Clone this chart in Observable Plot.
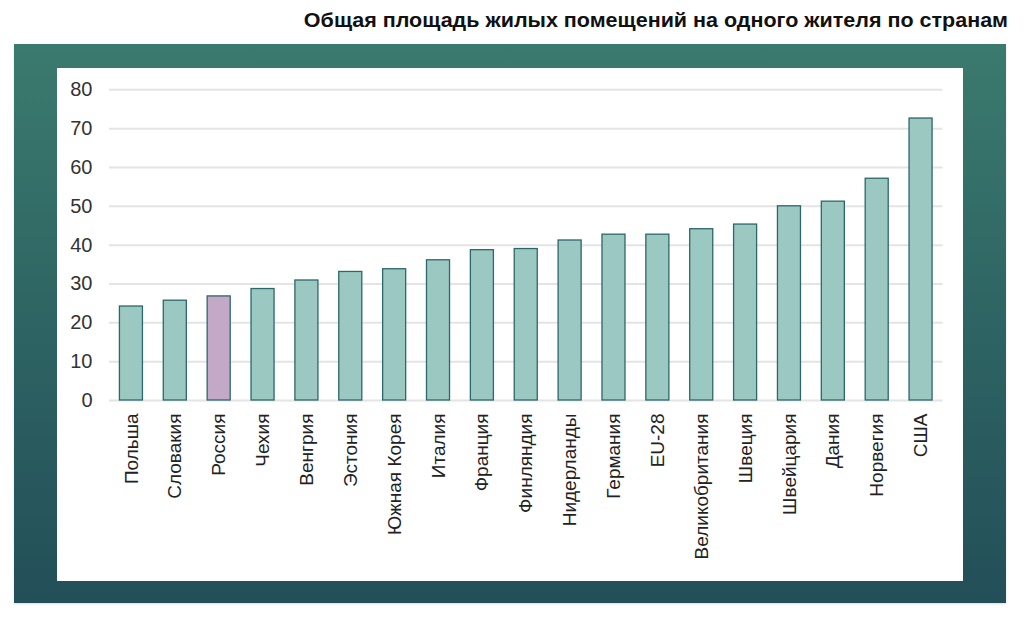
<!DOCTYPE html>
<html>
<head>
<meta charset="utf-8">
<script src="https://cdn.jsdelivr.net/npm/d3@7"></script>
<script src="https://cdn.jsdelivr.net/npm/@observablehq/plot@0.6"></script>
<style>
  html, body { margin: 0; padding: 0; background: #fff; }
  body { width: 1024px; height: 623px; position: relative; overflow: hidden; font-family: "Liberation Sans", Arial, sans-serif; }
  #title { position: absolute; right: 16px; top: 10px; font-weight: bold; font-size: 20px; line-height: 20px; color: #111; white-space: nowrap;
           transform: scaleX(1.075); transform-origin: right center; }
  #frame { position: absolute; left: 14px; top: 44px; width: 992px; height: 559px;
           background: linear-gradient(180deg, #3b7a6e 0%, #2e6463 50%, #234f58 100%);
           box-shadow: 0 1px 2px rgba(0,0,0,0.15); }
  #panel { position: absolute; left: 57px; top: 68px; width: 906px; height: 513px; background: #fff; }
  #panel svg { display: block; }
</style>
</head>
<body>
<div id="title">Общая площадь жилых помещений на одного жителя по странам</div>
<div id="frame"></div>
<div id="panel"></div>
<script>
const countries = ["Польша","Словакия","Россия","Чехия","Венгрия","Эстония","Южная Корея","Италия","Франция","Финляндия","Нидерланды","Германия","EU-28","Великобритания","Швеция","Швейцария","Дания","Норвегия","США"];
const values = [24.2, 25.7, 26.8, 28.7, 30.9, 33.1, 33.8, 36.1, 38.7, 39.0, 41.2, 42.7, 42.7, 44.1, 45.3, 50.0, 51.2, 57.1, 72.6];
const highlighted = ["Россия"];
const yTicks = [0, 10, 20, 30, 40, 50, 60, 70, 80];

const data = countries.map((c, i) => ({country: c, value: values[i], hl: highlighted.includes(c)}));

const chart = Plot.plot({
  width: 906,
  height: 513,
  marginLeft: 52,
  marginRight: 20.5,
  marginTop: 21.3,
  marginBottom: 181,
  style: {fontFamily: '"Liberation Sans", Arial, sans-serif', background: "#fff"},
  x: {domain: countries, paddingInner: 0.475, paddingOuter: 0.2375, round: false, label: null},
  y: {domain: [0, 80], label: null},
  marks: [
    Plot.ruleY(yTicks, {stroke: "#e4e4e4", strokeWidth: 2}),
    Plot.barY(data, {
      x: "country", y: "value",
      fill: d => d.hl ? "#c3a9c7" : "#9cc8c2",
      stroke: "#2c676a", strokeWidth: 1.3
    }),
    Plot.axisY({ticks: yTicks, tickSize: 0, tickPadding: 17, fontSize: 20, fill: "#333", label: null}),
    Plot.axisX({tickSize: 0, tickPadding: 13, tickRotate: -90, fontSize: 19, fill: "#222", label: null})
  ]
});
document.getElementById("panel").appendChild(chart);
</script>
</body>
</html>
